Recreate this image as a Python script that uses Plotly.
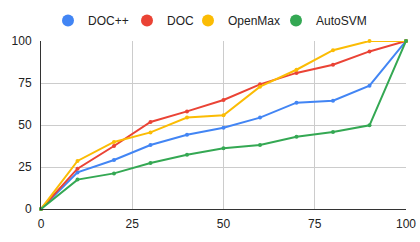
import plotly.graph_objects as go

x_vals = [0, 10, 20, 30, 40, 50, 60, 70, 80, 90, 100]
series_names = ["DOC++", "DOC", "OpenMax", "AutoSVM"]
doc_pp = [0, 21.8, 29.2, 38.1, 44.2, 48.4, 54.4, 63.3, 64.5, 73.4, 100]
doc = [0, 24.0, 37.5, 51.8, 58.1, 64.9, 74.2, 81.0, 85.9, 93.8, 100]
openmax = [0, 28.6, 39.9, 45.6, 54.4, 55.8, 72.8, 82.9, 94.5, 100, 100]
autosvm = [0, 17.5, 21.2, 27.4, 32.3, 36.1, 38.1, 43.0, 45.8, 49.8, 100]
colors = ["#4285F4", "#EA4335", "#FBBC04", "#34A853"]
tick_vals = [0, 25, 50, 75, 100]

W, H = 420, 242
legend_circle_px = [68, 147, 208, 296]
legend_ids = ["legend", "legend2", "legend3", "legend4"]

fig = go.Figure()
for name, ys, c in zip(series_names, [doc_pp, doc, openmax, autosvm], colors):
    fig.add_trace(go.Scatter(x=x_vals, y=ys, mode="lines+markers", name=name,
                             line=dict(color=c, width=2), marker=dict(color=c, size=4),
                             showlegend=False, hoverinfo="skip", cliponaxis=False))
for name, c, lid in zip(series_names, colors, legend_ids):
    fig.add_trace(go.Scatter(x=[None], y=[None], mode="markers", name=name,
                             marker=dict(color=c, size=12), showlegend=True, legend=lid))

leg_common = dict(orientation="h", xref="container", yref="container", xanchor="left",
                  yanchor="top", y=1 - 6 / H, itemwidth=30, font=dict(size=12, color="#222"),
                  bgcolor="rgba(0,0,0,0)")
legends = {}
for lid, cx in zip(legend_ids, legend_circle_px):
    legends[lid] = dict(leg_common, x=(cx - 20) / W)

fig.update_layout(
    width=W, height=H,
    margin=dict(l=41, r=14, t=41, b=33, autoexpand=False),
    paper_bgcolor="white", plot_bgcolor="white",
    font=dict(family="Liberation Sans, Arial", size=12, color="#222"),
    xaxis=dict(range=[0, 100], tickvals=tick_vals, showgrid=True, gridcolor="#cccccc",
               gridwidth=1, zeroline=False, showline=True, linecolor="#333333", linewidth=1,
               ticks="", ticklabelstandoff=4, fixedrange=True, automargin=False),
    yaxis=dict(range=[0, 100], tickvals=tick_vals, showgrid=True, gridcolor="#cccccc",
               gridwidth=1, zeroline=False, showline=True, linecolor="#333333", linewidth=1,
               ticks="", ticklabelstandoff=6, fixedrange=True, automargin=False),
    **legends,
)
fig.write_html("out.html", config={"displayModeBar": False},
               post_script="document.body.style.margin='0';document.body.style.overflow='hidden';")
